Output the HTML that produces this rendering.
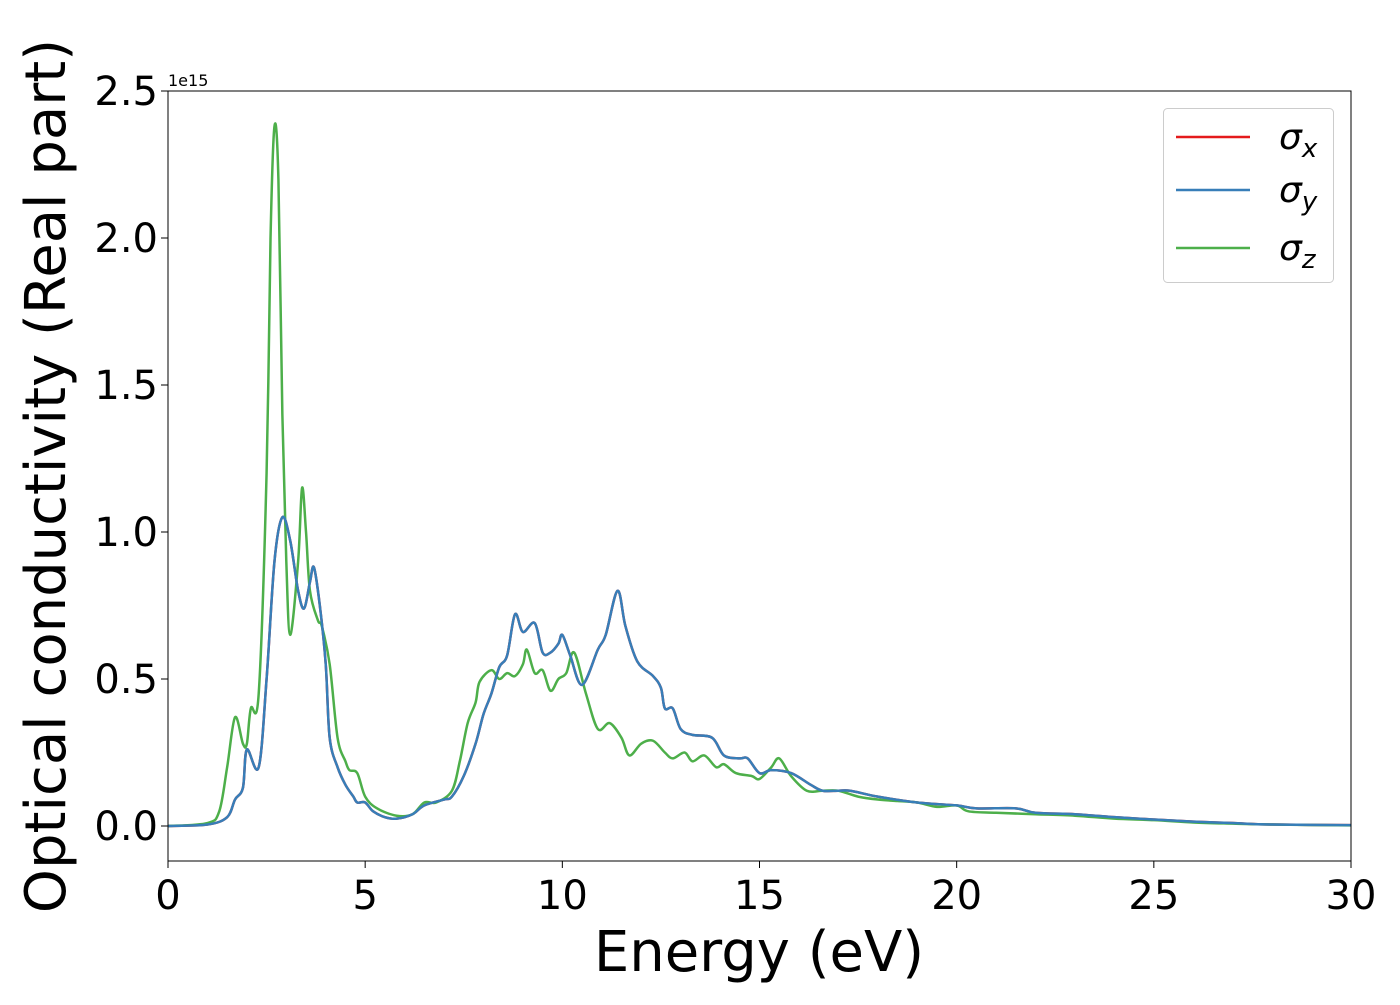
<!DOCTYPE html>
<html><head><meta charset="utf-8"><style>
body{margin:0;background:#fff;}
svg text{font-family:"DejaVu Sans","Liberation Sans",sans-serif;}
</style></head><body>
<svg id="chart" width="1400" height="1000" xmlns="http://www.w3.org/2000/svg">
<g id="plot"></g>
</svg>
<script>
const energyBlue=[0,1,1.5,1.7,1.9,2.0,2.3,2.5,2.7,2.9,3.1,3.3,3.45,3.6,3.7,3.85,4.0,4.1,4.3,4.5,4.7,4.8,5.0,5.2,5.5,5.8,6.2,6.5,7.0,7.2,7.5,7.8,8.0,8.2,8.4,8.6,8.8,9.0,9.3,9.5,9.7,9.9,10.0,10.2,10.5,10.9,11.1,11.4,11.6,11.9,12.3,12.5,12.6,12.8,13.0,13.3,13.8,14.1,14.5,14.7,15.0,15.3,15.8,16.3,16.6,17.0,17.3,18,19,20,20.5,21.5,22,23,24,25,26,27,28,30];
const sigmaY=[0,0.005,0.03,0.09,0.13,0.26,0.2,0.5,0.9,1.05,0.97,0.8,0.74,0.83,0.88,0.75,0.55,0.3,0.2,0.14,0.1,0.08,0.08,0.05,0.03,0.025,0.04,0.07,0.09,0.1,0.17,0.28,0.38,0.45,0.54,0.58,0.72,0.66,0.69,0.59,0.59,0.62,0.65,0.58,0.48,0.6,0.65,0.8,0.68,0.56,0.51,0.47,0.4,0.4,0.33,0.31,0.3,0.24,0.23,0.23,0.18,0.19,0.18,0.14,0.12,0.12,0.12,0.1,0.08,0.07,0.06,0.06,0.045,0.04,0.03,0.022,0.015,0.01,0.005,0.003];
const sigmaX=sigmaY.slice();
const energyGreen=[0,1,1.3,1.5,1.7,1.9,2.0,2.1,2.3,2.5,2.6,2.7,2.8,2.9,3.0,3.1,3.3,3.4,3.5,3.6,3.8,3.9,4.1,4.3,4.5,4.6,4.8,5.0,5.3,5.8,6.2,6.5,6.8,7.2,7.4,7.6,7.8,7.9,8.2,8.4,8.6,8.8,9.0,9.1,9.3,9.5,9.7,9.9,10.1,10.3,10.6,10.9,11.2,11.5,11.7,12.0,12.3,12.6,12.8,13.1,13.3,13.6,13.9,14.1,14.4,14.8,15.0,15.3,15.5,15.8,16.2,16.6,17.0,17.5,18,18.5,19,19.5,20,20.3,21,22,23,24,25,26,27,28,30];
const sigmaZ=[0,0.01,0.05,0.2,0.37,0.28,0.28,0.4,0.45,1.2,2.0,2.38,2.2,1.4,0.9,0.65,0.9,1.15,1.0,0.8,0.7,0.68,0.55,0.3,0.22,0.19,0.18,0.1,0.06,0.035,0.04,0.08,0.08,0.12,0.22,0.35,0.42,0.49,0.53,0.5,0.52,0.51,0.55,0.6,0.52,0.53,0.46,0.5,0.52,0.59,0.45,0.33,0.35,0.3,0.24,0.28,0.29,0.25,0.23,0.25,0.22,0.24,0.2,0.21,0.18,0.17,0.16,0.2,0.23,0.17,0.12,0.12,0.12,0.1,0.09,0.085,0.08,0.065,0.07,0.05,0.045,0.04,0.035,0.025,0.02,0.012,0.008,0.005,0.002];
const xTicks=[0,5,10,15,20,25,30];
const yTicks=[0.0,0.5,1.0,1.5,2.0,2.5];
const yTickLabels=["0.0","0.5","1.0","1.5","2.0","2.5"];

const L=168,R=1351,T=91,B=861;
const xS=e=>L+(e/30)*(R-L);
const yS=v=>826-v*294;
const NS="http://www.w3.org/2000/svg";
const svg=document.getElementById('chart');
function mk(tag,attrs,parent){const el=document.createElementNS(NS,tag);for(const k in attrs)el.setAttribute(k,attrs[k]);(parent||svg).appendChild(el);return el;}

function pathFor(xs,ys){
  const p=xs.map((x,i)=>[xS(x),yS(ys[i])]);
  let d=`M${p[0][0]},${p[0][1]}`;
  for(let i=0;i<p.length-1;i++){
    const p0=p[Math.max(0,i-1)],p1=p[i],p2=p[i+1],p3=p[Math.min(p.length-1,i+2)];
    const c1=[p1[0]+(p2[0]-p0[0])/6,p1[1]+(p2[1]-p0[1])/6];
    const c2=[p2[0]-(p3[0]-p1[0])/6,p2[1]-(p3[1]-p1[1])/6];
    d+=` C${c1[0]},${c1[1]} ${c2[0]},${c2[1]} ${p2[0]},${p2[1]}`;
  }
  return d;
}
const clip=mk('clipPath',{id:'cp'});mk('rect',{x:L,y:T,width:R-L,height:B-T},clip);
const g=mk('g',{'clip-path':'url(#cp)'});


const lx=mk('path',{d:pathFor(energyBlue,sigmaX),fill:'none',stroke:'#e41a1c','stroke-width':2.5},g);


const lz=mk('path',{d:pathFor(energyGreen,sigmaZ),fill:'none',stroke:'#4daf4a','stroke-width':2.5},g);


const ly=mk('path',{d:pathFor(energyBlue,sigmaY),fill:'none',stroke:'#377eb8','stroke-width':2.5},g);



const frame=mk('rect',{x:L,y:T,width:R-L,height:B-T,fill:'none',stroke:'#000','stroke-width':1});



xTicks.forEach(t=>{
  const tk=mk('line',{x1:xS(t),x2:xS(t),y1:B,y2:B+7,stroke:'#000','stroke-width':1});
  
  
  const tx=mk('text',{x:xS(t),y:B+48,'text-anchor':'middle','font-size':40});
  tx.textContent=t;
  
  
});
yTicks.forEach((t,i)=>{
  const tk=mk('line',{x1:L-7,x2:L,y1:yS(t),y2:yS(t),stroke:'#000','stroke-width':1});
  
  
  const tx=mk('text',{x:L-10,y:yS(t)+14,'text-anchor':'end','font-size':40});
  tx.textContent=yTickLabels[i];
  
  
});
</script>
<svg style="position:absolute;left:0;top:0" width="1400" height="1000" xmlns="http://www.w3.org/2000/svg">
<text x="168" y="86" font-size="16">1e15</text>
<text x="759" y="971" text-anchor="middle" font-size="56">Energy (eV)</text>
<text transform="translate(65,476) rotate(-90)" text-anchor="middle" font-size="56">Optical conductivity (Real part)</text>
<g>
<rect x="1163.5" y="108.5" width="170" height="174" rx="4" fill="#fff" fill-opacity="0.8" stroke="#ccc"/>
<line x1="1176" x2="1250" y1="137" y2="137" stroke="#e41a1c" stroke-width="2.5"/>
<text x="1279" y="149" font-size="36" font-style="italic">σ<tspan font-size="26" dy="8">x</tspan></text>
<line x1="1176" x2="1250" y1="190" y2="190" stroke="#377eb8" stroke-width="2.5"/>
<text x="1279" y="202" font-size="36" font-style="italic">σ<tspan font-size="26" dy="8">y</tspan></text>
<line x1="1176" x2="1250" y1="248" y2="248" stroke="#4daf4a" stroke-width="2.5"/>
<text x="1279" y="260" font-size="36" font-style="italic">σ<tspan font-size="26" dy="8">z</tspan></text>
</g>
</svg>
</body></html>
